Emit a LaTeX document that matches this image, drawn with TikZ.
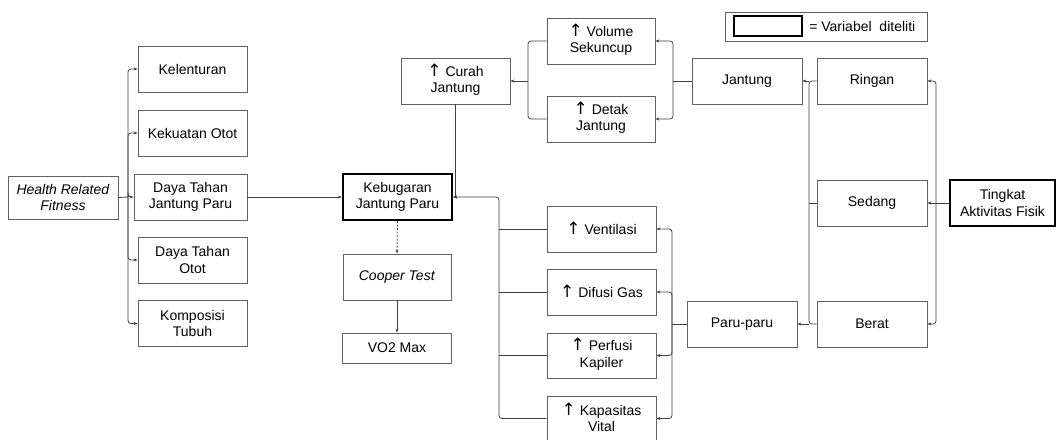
\documentclass[tikz,border=0pt]{standalone}
\usepackage{fontspec}
\setmainfont{Liberation Sans}
\newfontfamily\panahfont{DejaVu Sans}
\usetikzlibrary{arrows.meta}

\newcommand{\naik}{\smash{\panahfont\fontsize{17}{16.5}\selectfont ↑}\ }

\tikzset{
  kotak/.style={draw=black!62, line width=0.8pt, minimum width=109pt, minimum height=46pt,
    align=center, inner sep=2pt, font=\fontsize{14}{16.5}\selectfont},
  utama/.style={kotak, draw=black, line width=2.2pt},
  garis/.style={draw=black!75, line width=0.8pt},
  panah/.style={garis, -{Stealth[length=4pt,width=3pt]}},
}

\begin{document}
\begin{tikzpicture}[x=1pt,y=-1pt]
            \useasboundingbox (0,0) rectangle (1056,439);

            \node[kotak, minimum width=110pt, minimum height=43pt] (hrf) at (63,197.5) {\textit{Health Related}\\\textit{Fitness}};
            \node[kotak] (kelenturan) at (192.5,69) {Kelenturan};
            \node[kotak] (kekuatan) at (192.5,133) {Kekuatan Otot};
            \node[kotak, minimum width=113pt] (dtjp) at (190.5,197) {Daya Tahan\\Jantung Paru};
            \node[kotak] (dto) at (192.5,260) {Daya Tahan\\Otot};
            \node[kotak] (komposisi) at (192.5,323.5) {Komposisi\\Tubuh};

            \coordinate (cabangA) at (128,197);
            \draw[garis] (hrf.east) -- (cabangA);
            \foreach \n in {kelenturan,kekuatan,dtjp,dto,komposisi}
                \draw[panah, rounded corners=3pt] (cabangA) |- (\n.west);

            \node[utama] (kebugaran) at (397.5,197) {Kebugaran\\Jantung Paru};
            \node[kotak, minimum width=108pt] (cooper) at (397,277) {\textit{Cooper Test}};
            \node[kotak, minimum height=30pt] (vo2) at (397,348) {VO2 Max};
            \draw[panah] (dtjp.east) -- (kebugaran.west);
            \draw[panah, dash pattern=on 2pt off 1.5pt] (kebugaran.south) -- (cooper.north);
            \draw[panah] (cooper.south) -- (vo2.north);

            \node[kotak] (curah) at (455.5,81) {\naik Curah\\Jantung};
            \node[kotak, minimum width=108pt] (volume) at (601,41) {\naik Volume\\Sekuncup};
            \node[kotak, minimum width=108pt] (detak) at (601,119) {\naik Detak\\Jantung};
            \node[kotak, minimum width=110pt] (jantung) at (747,81) {Jantung};
            \draw[panah] (curah.south) |- (kebugaran.east);

            \coordinate (cabangB) at (528,81);
            \draw[panah] (cabangB) -- (curah.east);
            \draw[garis, rounded corners=3pt] (volume.west) -| (cabangB) |- (detak.west);
            \coordinate (cabangC) at (673,81);
            \draw[garis] (jantung.west) -- (cabangC);
            \draw[panah, rounded corners=3pt] (cabangC) |- (volume.east);
            \draw[panah, rounded corners=3pt] (cabangC) |- (detak.east);

            \node[kotak, minimum width=110pt] (ringan) at (872,81) {Ringan};
            \node[kotak, minimum width=110pt] (sedang) at (872,203) {Sedang};
            \node[kotak, minimum width=110pt] (berat) at (872,324) {Berat};
            \node[utama, minimum width=105pt] (tingkat) at (1002.5,203) {Tingkat\\Aktivitas Fisik};
            \node[kotak, minimum width=110pt] (paru) at (742,324) {Paru-paru};

            \coordinate (cabangD) at (809,203);
            \coordinate (atasD) at (809,81);
            \coordinate (bawahD) at (809,324);
            \draw[garis, rounded corners=3pt] (ringan.west) -| (cabangD) |- (berat.west);
            \draw[garis] (sedang.west) -- (cabangD);
            \draw[panah] (atasD) -- (jantung.east);
            \draw[panah] (bawahD) -- (paru.east);

            \coordinate (cabangE) at (936,203);
            \draw[panah] (tingkat.west) -- (sedang.east);
            \draw[panah, rounded corners=3pt] (cabangE) |- (ringan.east);
            \draw[panah, rounded corners=3pt] (cabangE) |- (berat.east);

            \node[kotak] (ventilasi) at (601.5,229) {\naik Ventilasi};
            \node[kotak] (difusi) at (601.5,292) {\naik Difusi Gas};
            \node[kotak, minimum height=45pt] (perfusi) at (601.5,355.5) {\naik Perfusi\\Kapiler};
            \node[kotak, minimum height=45pt] (kapasitas) at (601.5,418.5) {\naik Kapasitas\\Vital};

            \coordinate (cabangF) at (672,324);
            \draw[garis] (paru.west) -- (cabangF);
            \foreach \n in {ventilasi,difusi,perfusi,kapasitas}
                \draw[panah, rounded corners=3pt] (cabangF) |- (\n.east);

            \coordinate (cabangG) at (499,197);
            \draw[panah, rounded corners=3pt] (kapasitas.west) -| (cabangG) -- (kebugaran.east);
            \foreach \n in {ventilasi,difusi,perfusi}
                \draw[garis] (\n.west) -- (\n.west -| cabangG);

            \node[draw=black!62, line width=0.8pt, minimum width=202pt, minimum height=29pt] (legenda) at (826,26.5) {};
            \node[draw=black, line width=2.2pt, minimum width=68pt, minimum height=20pt, inner sep=0pt] (contoh) at (768,26) {};
            \node[anchor=west, inner sep=2pt, xshift=4pt, font=\fontsize{14}{16.5}\selectfont] (keterangan) at (contoh.east) {= Variabel\ \ diteliti};
\end{tikzpicture}
\end{document}
